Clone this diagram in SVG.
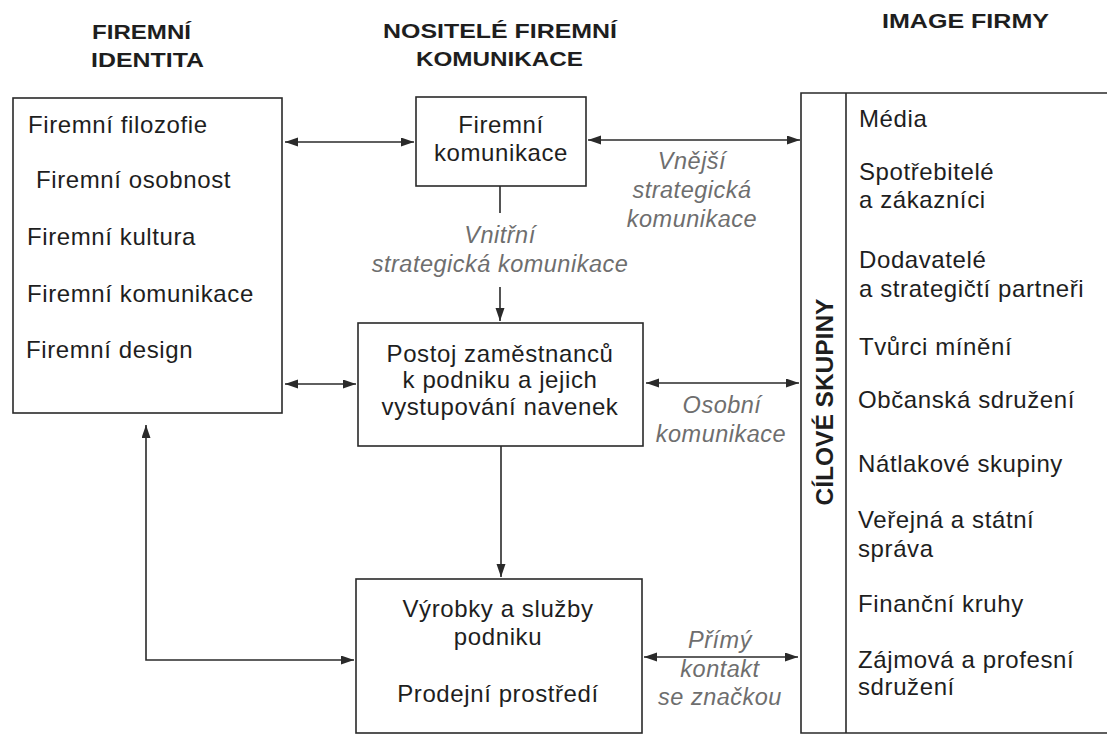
<svg xmlns="http://www.w3.org/2000/svg" width="1107" height="738" viewBox="0 0 1107 738">
<style>
.hd{font-family:"Liberation Sans",Arial,sans-serif;font-weight:bold;font-size:21px;fill:#1e1e1e}
.tx{font-family:"Liberation Sans",Arial,sans-serif;font-size:24px;letter-spacing:0.6px;fill:#1e1e1e}
.c{text-anchor:middle}
.lb{font-family:"Liberation Sans",Arial,sans-serif;font-style:italic;font-size:23.5px;letter-spacing:0.5px;fill:#6e6e6e;text-anchor:middle}
.box{fill:#fff;stroke:#2a2a2a;stroke-width:1.6}
.ln{fill:none;stroke:#2a2a2a;stroke-width:1.6}
.ar{marker-start:url(#ah);marker-end:url(#ah)}
.ae{marker-end:url(#ah)}
</style>
<defs>
<marker id="ah" markerUnits="userSpaceOnUse" markerWidth="14" markerHeight="10" refX="13" refY="4.5" orient="auto-start-reverse">
<path d="M0,0 L13,4.5 L0,9 z" fill="#2a2a2a"/>
</marker>
</defs>
<rect width="1107" height="738" fill="#fff"/>

<g id="headers">
<text class="hd" x="92" y="39" textLength="99" lengthAdjust="spacingAndGlyphs">FIREMNÍ</text>
<text class="hd" x="91" y="67" textLength="113" lengthAdjust="spacingAndGlyphs">IDENTITA</text>
<text class="hd" x="383" y="38" textLength="234" lengthAdjust="spacingAndGlyphs">NOSITELÉ FIREMNÍ</text>
<text class="hd" x="416" y="66" textLength="167" lengthAdjust="spacingAndGlyphs">KOMUNIKACE</text>
<text class="hd" x="882" y="28" textLength="167" lengthAdjust="spacingAndGlyphs">IMAGE FIRMY</text>
</g>

<g id="firemni-identita">
<rect class="box" x="13" y="98" width="269" height="315"/>
<text class="tx" x="28" y="133">Firemní filozofie</text>
<text class="tx" x="36" y="188">Firemní osobnost</text>
<text class="tx" x="27" y="245">Firemní kultura</text>
<text class="tx" x="27" y="302">Firemní komunikace</text>
<text class="tx" x="26" y="358">Firemní design</text>
</g>

<g id="firemni-komunikace">
<rect class="box" x="416" y="97" width="170" height="89"/>
<text class="tx c" x="501" y="133">Firemní</text>
<text class="tx c" x="501" y="161">komunikace</text>
</g>

<g id="postoj">
<rect class="box" x="358" y="323" width="285" height="123"/>
<text class="tx c" x="500" y="362">Postoj zaměstnanců</text>
<text class="tx c" x="500" y="388">k podniku a jejich</text>
<text class="tx c" x="500" y="415">vystupování navenek</text>
</g>

<g id="vyrobky">
<rect class="box" x="356" y="579" width="286" height="154"/>
<text class="tx c" x="498" y="617">Výrobky a služby</text>
<text class="tx c" x="498" y="645">podniku</text>
<text class="tx c" x="498" y="702">Prodejní prostředí</text>
</g>

<g id="cilove-skupiny">
<path class="ln" d="M1107,93 H801 V733 H1107"/>
<line class="ln" x1="846" y1="93" x2="846" y2="733"/>
<text class="hd c" transform="translate(833,402) rotate(-90)" style="font-size:24.5px">CÍLOVÉ SKUPINY</text>
<text class="tx" x="859" y="127">Média</text>
<text class="tx" x="859" y="180">Spotřebitelé</text>
<text class="tx" x="859" y="208">a zákazníci</text>
<text class="tx" x="859" y="268">Dodavatelé</text>
<text class="tx" x="859" y="297">a strategičtí partneři</text>
<text class="tx" x="859" y="355">Tvůrci mínění</text>
<text class="tx" x="858" y="408">Občanská sdružení</text>
<text class="tx" x="858" y="472">Nátlakové skupiny</text>
<text class="tx" x="858" y="528">Veřejná a státní</text>
<text class="tx" x="858" y="557">správa</text>
<text class="tx" x="858" y="612">Finanční kruhy</text>
<text class="tx" x="858" y="668">Zájmová a profesní</text>
<text class="tx" x="858" y="695">sdružení</text>
</g>

<g id="connectors">
<line class="ln ar" x1="285" y1="142" x2="414" y2="142"/>
<line class="ln ar" x1="588" y1="140" x2="800" y2="140"/>
<line class="ln" x1="500" y1="186" x2="500" y2="213"/>
<line class="ln ae" x1="500" y1="287" x2="500" y2="321"/>
<line class="ln ar" x1="285" y1="384" x2="356" y2="384"/>
<line class="ln ar" x1="646" y1="383" x2="799" y2="383"/>
<line class="ln ae" x1="501" y1="446" x2="501" y2="577"/>
<path class="ln ar" d="M146,425 V660 H354"/>
<line class="ln ar" x1="644" y1="657" x2="798" y2="657"/>
</g>

<g id="labels">
<text class="lb" x="500" y="243">Vnitřní</text>
<text class="lb" x="500" y="272">strategická komunikace</text>
<text class="lb" x="692" y="169">Vnější</text>
<text class="lb" x="692" y="198">strategická</text>
<text class="lb" x="692" y="227">komunikace</text>
<text class="lb" x="722" y="413">Osobní</text>
<text class="lb" x="721" y="442">komunikace</text>
<text class="lb" x="720" y="648">Přímý</text>
<text class="lb" x="720" y="677">kontakt</text>
<text class="lb" x="720" y="705">se značkou</text>
</g>
</svg>
